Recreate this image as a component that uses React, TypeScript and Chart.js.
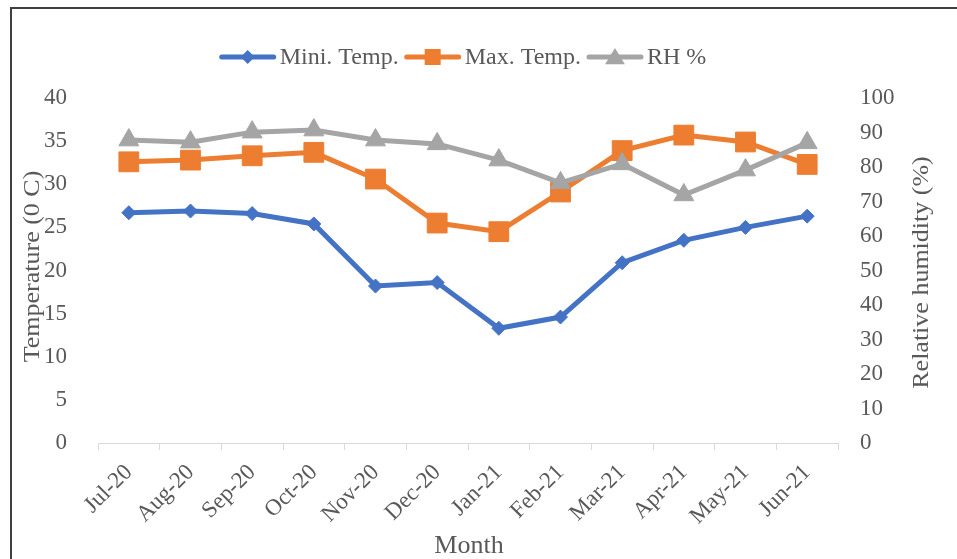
import { useEffect, useRef } from "react";
import { Chart, registerables } from "chart.js";
Chart.register(...registerables);

const months = ["Jul-20", "Aug-20", "Sep-20", "Oct-20", "Nov-20", "Dec-20", "Jan-21", "Feb-21", "Mar-21", "Apr-21", "May-21", "Jun-21"];
const miniTemp = [26.7, 26.9, 26.6, 25.4, 18.2, 18.6, 13.3, 14.6, 20.9, 23.5, 25.0, 26.3];
const maxTemp = [32.6, 32.8, 33.3, 33.7, 30.6, 25.5, 24.5, 29.1, 33.9, 35.7, 34.9, 32.3];
const rhPercent = [87.8, 87.2, 90.1, 90.7, 87.8, 86.7, 82.0, 75.4, 80.9, 71.9, 79.1, 87.0];
const seriesNames = ["Mini. Temp.", "Max. Temp.", "RH %"];
const leftTitle = "Temperature (0 C)";
const rightTitle = "Relative humidity (%)";
const bottomTitle = "Month";

const FONT = '"Liberation Serif", "Times New Roman", serif';
const TEXT = "#595959";
const BLUE = "#4472C4";
const ORANGE = "#ED7D31";
const GRAY = "#A5A5A5";

function drawMarker(ctx: CanvasRenderingContext2D, style: string, x: number, y: number, s: number, color: string) {
  ctx.save();
  ctx.fillStyle = color;
  ctx.beginPath();
  if (style === "diamond") {
    ctx.moveTo(x, y - s);
    ctx.lineTo(x + s, y);
    ctx.lineTo(x, y + s);
    ctx.lineTo(x - s, y);
  } else if (style === "square") {
    ctx.rect(x - s, y - s, 2 * s, 2 * s);
  } else {
    ctx.moveTo(x, y - s);
    ctx.lineTo(x + s * 1.1, y + s * 0.8);
    ctx.lineTo(x - s * 1.1, y + s * 0.8);
  }
  ctx.closePath();
  ctx.fill();
  ctx.restore();
}

const decor = {
  id: "decor",
  afterDraw(chart: any) {
    const ctx: CanvasRenderingContext2D = chart.ctx;
    const area = chart.chartArea;
    ctx.save();
    // outer frame
    ctx.strokeStyle = "#3f3f3f";
    ctx.lineWidth = 2;
    ctx.strokeRect(11, 8, 1000, 700);

    // legend
    ctx.font = `24px ${FONT}`;
    ctx.textBaseline = "middle";
    ctx.textAlign = "left";
    const styles = ["diamond", "square", "triangle"];
    const sizes = [7, 8, 9];
    const colors = [BLUE, ORANGE, GRAY];
    const lineLen = 56;
    const gapText = 4;
    const gapItem = 6;
    const widths = seriesNames.map((n) => lineLen + gapText + ctx.measureText(n).width);
    const total = widths.reduce((a, b) => a + b, 0) + gapItem * (seriesNames.length - 1);
    let x = 463 - total / 2;
    const ly = 57;
    seriesNames.forEach((name, i) => {
      ctx.strokeStyle = colors[i];
      ctx.lineWidth = 5;
      ctx.lineCap = "round";
      ctx.beginPath();
      ctx.moveTo(x + 2, ly);
      ctx.lineTo(x + lineLen - 2, ly);
      ctx.stroke();
      drawMarker(ctx, styles[i], x + lineLen / 2, ly, sizes[i], colors[i]);
      ctx.fillStyle = TEXT;
      ctx.fillText(name, x + lineLen + gapText, ly + 1);
      x += widths[i] + gapItem;
    });

    // axis titles
    ctx.font = `26px ${FONT}`;
    ctx.fillStyle = TEXT;
    ctx.textAlign = "center";
    ctx.textBaseline = "middle";
    const cy = (area.top + area.bottom) / 2;
    ctx.save();
    ctx.translate(33, cy - 4);
    ctx.scale(0.85, 1);
    ctx.rotate(-Math.PI / 2);
    ctx.fillText(leftTitle, 0, 0);
    ctx.restore();
    ctx.save();
    ctx.translate(922, cy + 2);
    ctx.scale(0.85, 1);
    ctx.rotate(-Math.PI / 2);
    ctx.fillText(rightTitle, 0, 0);
    ctx.restore();
    ctx.fillText(bottomTitle, 469, 546);
    ctx.restore();
  },
};

export default function App() {
  const ref = useRef<HTMLCanvasElement | null>(null);
  useEffect(() => {
    if (!ref.current) return;
    Chart.defaults.font.family = FONT;
    Chart.defaults.color = TEXT;
    const chart = new Chart(ref.current, {
      type: "line",
      data: {
        labels: months,
        datasets: [
          {
            label: seriesNames[0],
            data: miniTemp,
            yAxisID: "y",
            borderColor: BLUE,
            backgroundColor: BLUE,
            borderWidth: 5,
            pointStyle: "rectRot",
            pointRadius: 7,
            pointBorderWidth: 1,
            pointBorderColor: BLUE,
            pointBackgroundColor: BLUE,
            tension: 0,
            order: 2,
          },
          {
            label: seriesNames[1],
            data: maxTemp,
            yAxisID: "y",
            borderColor: ORANGE,
            backgroundColor: ORANGE,
            borderWidth: 5,
            pointStyle: "rect",
            pointRadius: 14,
            pointBorderWidth: 1,
            pointBorderColor: ORANGE,
            pointBackgroundColor: ORANGE,
            tension: 0,
            order: 1,
          },
          {
            label: seriesNames[2],
            data: rhPercent,
            yAxisID: "y1",
            borderColor: GRAY,
            backgroundColor: GRAY,
            borderWidth: 5,
            pointStyle: "triangle",
            pointRadius: 11.5,
            pointBorderWidth: 1,
            pointBorderColor: GRAY,
            pointBackgroundColor: GRAY,
            tension: 0,
            order: 0,
          },
        ],
      },
      options: {
        responsive: false,
        animation: false,
        layout: { padding: { top: 98, left: 0, right: 0, bottom: 0 } },
        plugins: { legend: { display: false }, tooltip: { enabled: false } },
        scales: {
          x: {
            offset: true,
            grid: { display: true, drawOnChartArea: false, drawTicks: true, tickLength: 7, color: "#d9d9d9", offset: true },
            border: { display: true, color: "#d9d9d9", width: 1 },
            ticks: { maxRotation: 45, minRotation: 45, padding: 9, font: { size: 23 }, color: TEXT, autoSkip: false },
            afterFit: (s: any) => { s.height = 116; },
          },
          y: {
            position: "left",
            min: 0,
            max: 40,
            grid: { display: false, drawTicks: false },
            border: { display: false },
            ticks: { stepSize: 5, padding: 31, font: { size: 23 }, color: TEXT },
            afterFit: (s: any) => { s.width = 98; },
          },
          y1: {
            position: "right",
            min: 0,
            max: 100,
            grid: { display: false, drawTicks: false },
            border: { display: false },
            ticks: { stepSize: 10, padding: 22, font: { size: 23 }, color: TEXT },
            afterFit: (s: any) => { s.width = 119; },
          },
        },
      },
      plugins: [decor],
    });
    return () => chart.destroy();
  }, []);
  return (
    <div style={{ position: "absolute", left: 0, top: 0, width: 957, height: 559, background: "#fff" }}>
      <canvas ref={ref} width={957} height={559} style={{ display: "block" }} />
    </div>
  );
}
